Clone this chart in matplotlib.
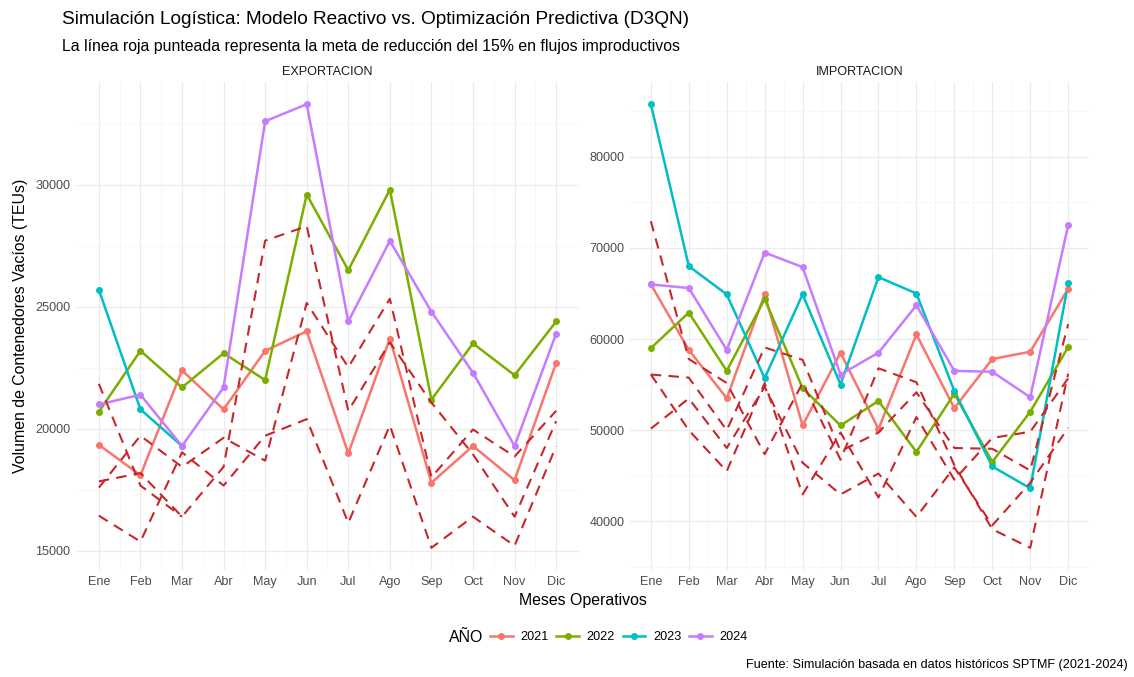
import numpy as np
import matplotlib
matplotlib.use("Agg")
import matplotlib.pyplot as plt
from matplotlib.lines import Line2D

plt.rcParams["font.family"] = ["Liberation Sans", "DejaVu Sans"]

# ── Data ──────────────────────────────────────────────────────────────────────
MESES = ["Ene", "Feb", "Mar", "Abr", "May", "Jun",
         "Jul", "Ago", "Sep", "Oct", "Nov", "Dic"]
YEARS = ["2021", "2022", "2023", "2024"]
NAN = np.nan

exp_2021 = [19350, 18100, 22400, 20800, 23200, 24000, 19000, 23700, 17800, 19300, 17900, 22700]
exp_2022 = [20700, 23200, 21700, 23100, 22000, 29600, 26500, 29800, 21200, 23500, 22200, 24400]
exp_2023 = [25700, 20800, 19300, NAN, NAN, NAN, NAN, NAN, NAN, NAN, NAN, NAN]
exp_2024 = [21000, 21400, 19300, 21700, 32600, 33300, 24400, 27700, 24800, 22300, 19300, 23900]

imp_2021 = [66000, 58800, 53500, 64900, 50500, 58500, 50100, 60500, 52400, 57800, 58600, 65500]
imp_2022 = [59000, 62900, 56500, 64400, 54600, 50500, 53200, 47600, 54000, 46500, 52000, 59100]
imp_2023 = [85800, 68000, 64900, 55700, 64900, 55000, 66800, 65000, 54300, 46000, 43600, 66100]
imp_2024 = [66000, 65600, 58800, 69500, 67900, 56100, 58500, 63700, 56500, 56400, 53600, 72500]

META_FACTOR = 0.85   # meta de reducción del 15%

PANELS = {
    "EXPORTACION": [exp_2021, exp_2022, exp_2023, exp_2024],
    "IMPORTACION": [imp_2021, imp_2022, imp_2023, imp_2024],
}
Y_TICKS = {
    "EXPORTACION": [15000, 20000, 25000, 30000],
    "IMPORTACION": [40000, 50000, 60000, 70000, 80000],
}

COLORS = ["#F8766D", "#7CAE00", "#00BFC4", "#C77CFF"]
META_COLOR = "#C8262A"

BASE = 11.4          # ggplot base size, scaled to this picture
SMALL = BASE * 0.8

# ── Figure ────────────────────────────────────────────────────────────────────
W, H = 1134, 677
fig = plt.figure(figsize=(W / 100, H / 100), dpi=100)
fig.patch.set_facecolor("white")

def px_axes(x0, y0, x1, y1):
    return fig.add_axes([x0 / W, 1 - y1 / H, (x1 - x0) / W, (y1 - y0) / H])

axes = [px_axes(76, 82, 579, 570), px_axes(630, 82, 1089, 570)]
x = np.arange(len(MESES))

for ax, (name, series) in zip(axes, PANELS.items()):
    for vals, col in zip(series, COLORS):
        v = np.array(vals, dtype=float)
        ax.plot(x, v, color=col, lw=1.8, zorder=3)
        ax.plot(x, v, "o", color=col, ms=4, zorder=4)
    for vals in series:
        v = np.array(vals, dtype=float) * META_FACTOR
        ax.plot(x, v, color=META_COLOR, lw=1.5, ls=(0, (5, 3.5)), zorder=5)

    ax.set_xlim(-0.55, len(MESES) - 0.45)
    ax.margins(y=0.05)
    ax.set_xticks(x)
    ax.set_xticklabels(MESES)
    ax.set_xticks(x[:-1] + 0.5, minor=True)
    ax.set_yticks(Y_TICKS[name])
    ax.set_yticklabels([str(t) for t in Y_TICKS[name]])
    lo, hi = ax.get_ylim()
    step = Y_TICKS[name][1] - Y_TICKS[name][0]
    minors = np.arange(Y_TICKS[name][0] - step / 2, hi, step)
    ax.set_yticks([m for m in minors if lo < m < hi], minor=True)

    ax.grid(which="major", color="#EBEBEB", lw=0.9, zorder=0)
    ax.grid(which="minor", color="#F4F4F4", lw=0.5, zorder=0)
    for s in ax.spines.values():
        s.set_visible(False)
    ax.tick_params(which="both", length=0, labelsize=SMALL, colors="#4D4D4D", pad=4)
    ax.tick_params(which="minor", labelleft=False, labelbottom=False)
    ax.set_title(name, fontsize=SMALL, color="#1A1A1A", pad=5)

# ── Texts ─────────────────────────────────────────────────────────────────────
fig.text(62 / W, 1 - 20 / H,
         "Simulación Logística: Modelo Reactivo vs. Optimización Predictiva (D3QN)",
         fontsize=BASE * 1.2, color="#000000", va="center", ha="left")
fig.text(62 / W, 1 - 46 / H,
         "La línea roja punteada representa la meta de reducción del 15% en flujos improductivos",
         fontsize=BASE, color="#000000", va="center", ha="left")
fig.text(21 / W, 1 - 326 / H, "Volumen de Contenedores Vacíos (TEUs)",
         rotation=90, fontsize=BASE, va="center", ha="center")
fig.text(583 / W, 1 - 600 / H, "Meses Operativos",
         fontsize=BASE, va="center", ha="center")
fig.text(1128 / W, 1 - 665 / H,
         "Fuente: Simulación basada en datos históricos SPTMF (2021-2024)",
         fontsize=SMALL, va="center", ha="right")

# legend
fig.text(466 / W, 1 - 637 / H, "AÑO", fontsize=BASE, va="center", ha="center")
handles = [Line2D([0], [0], color=c, lw=1.8, marker="o", ms=4) for c in COLORS]
fig.legend(handles, YEARS, loc="center left", bbox_to_anchor=(490 / W, 1 - 637 / H),
           ncol=4, frameon=False, fontsize=SMALL, handlelength=1.8,
           handletextpad=0.6, columnspacing=0.6, borderaxespad=0, borderpad=0)

fig.savefig("out.png", dpi=100, facecolor="white")
